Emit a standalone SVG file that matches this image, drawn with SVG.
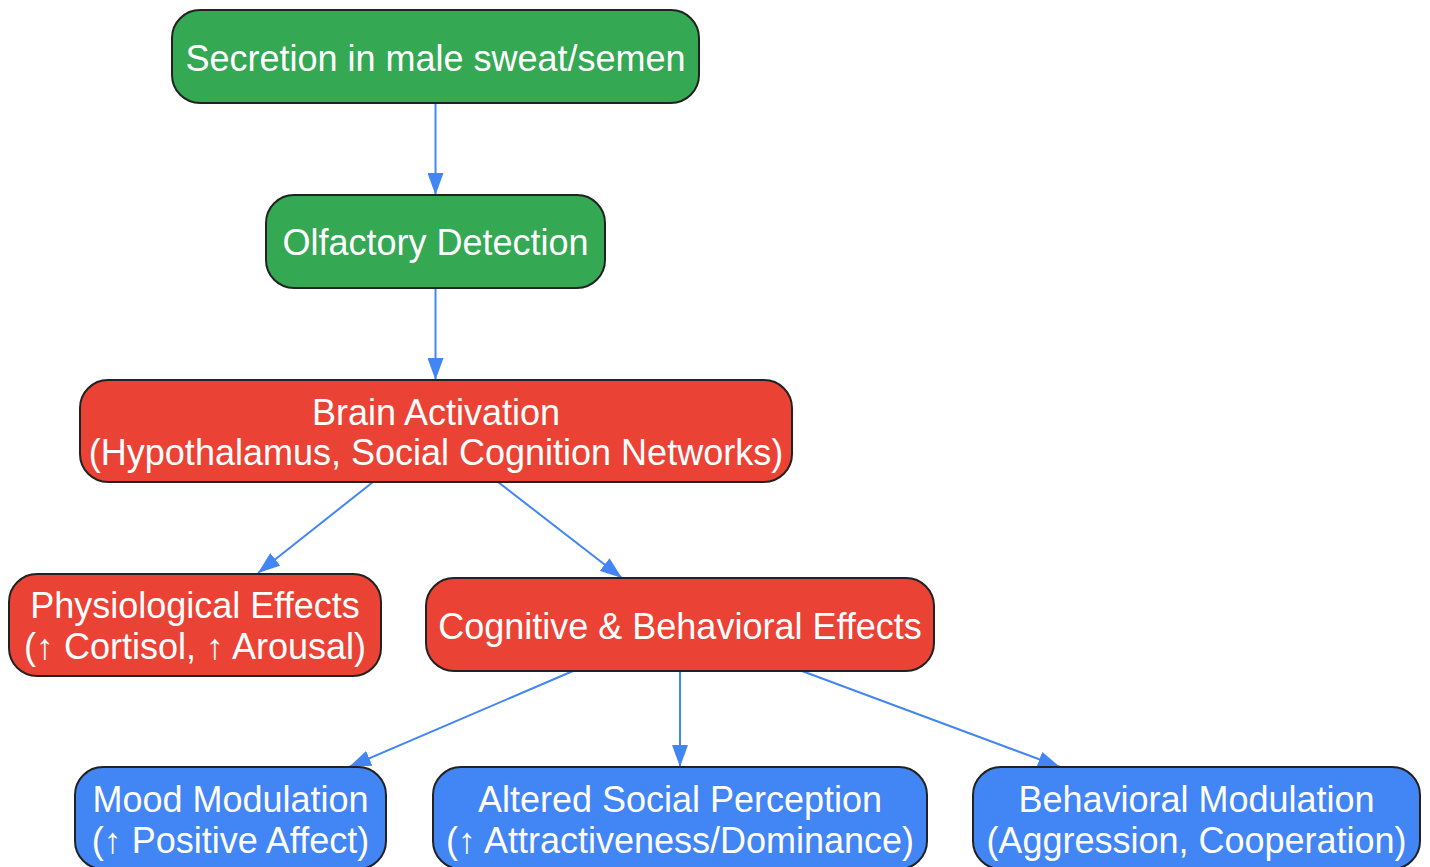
<svg xmlns="http://www.w3.org/2000/svg" width="1430" height="867" viewBox="0 0 1430 867">
<defs>
<style>
.n{stroke:#222;stroke-width:2}
.g{fill:#34A853}.r{fill:#EA4335}.b{fill:#4285F4}
text{font-family:"Liberation Sans",Arial,sans-serif;font-size:36px;fill:#fff;text-anchor:middle}
.e{stroke:#4285F4;stroke-width:2;fill:none;marker-end:url(#ah)}
</style>
<marker id="ah" viewBox="0 0 22 16" refX="22" refY="8" markerWidth="22" markerHeight="16" markerUnits="userSpaceOnUse" orient="auto">
<path d="M0,0 L22,8 L0,16 z" fill="#4285F4"/>
</marker>
</defs>
<g id="connectors">
<line class="e" x1="435.5" y1="103" x2="435.5" y2="195"/>
<line class="e" x1="435.5" y1="288" x2="435.5" y2="380"/>
<line class="e" x1="373" y1="482" x2="258" y2="573"/>
<line class="e" x1="498" y1="482" x2="622" y2="578"/>
<line class="e" x1="573" y1="671" x2="349" y2="767"/>
<line class="e" x1="680" y1="671" x2="680" y2="767"/>
<line class="e" x1="802" y1="671" x2="1060" y2="767"/>
</g>
<g id="n1"><rect class="n g" x="172" y="10" width="527" height="93" rx="28"/><text x="435.5" y="71">Secretion in male sweat/semen</text></g>
<g id="n2"><rect class="n g" x="266" y="195" width="339" height="93" rx="28"/><text x="435.5" y="255">Olfactory Detection</text></g>
<g id="n3"><rect class="n r" x="80" y="380" width="712" height="102" rx="28"/><text x="436" y="425">Brain Activation</text><text x="436" y="465">(Hypothalamus, Social Cognition Networks)</text></g>
<g id="n4"><rect class="n r" x="9" y="574" width="372" height="102" rx="28"/><text x="195" y="618">Physiological Effects</text><text x="195" y="659">(↑ Cortisol, ↑ Arousal)</text></g>
<g id="n5"><rect class="n r" x="426" y="578" width="508" height="93" rx="28"/><text x="680" y="639">Cognitive &amp; Behavioral Effects</text></g>
<g id="n6"><rect class="n b" x="75" y="767" width="311" height="102" rx="28"/><text x="230.5" y="812">Mood Modulation</text><text x="230.5" y="853">(↑ Positive Affect)</text></g>
<g id="n7"><rect class="n b" x="433" y="767" width="494" height="102" rx="28"/><text x="680" y="812">Altered Social Perception</text><text x="680" y="853">(↑ Attractiveness/Dominance)</text></g>
<g id="n8"><rect class="n b" x="973" y="767" width="447" height="102" rx="28"/><text x="1196.5" y="812">Behavioral Modulation</text><text x="1196.5" y="853">(Aggression, Cooperation)</text></g>
</svg>
